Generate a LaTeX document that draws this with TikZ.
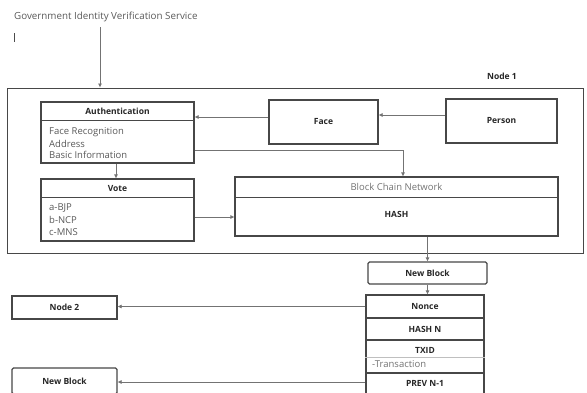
\documentclass[tikz,border=0pt]{standalone}
\usepackage{fontspec}
\setmainfont{Open Sans}
\usetikzlibrary{arrows.meta,positioning,calc}
\definecolor{boxgray}{gray}{0.28}

\begin{document}
\begin{tikzpicture}[x=1pt,y=-1pt,
        box/.style={draw=boxgray,line width=1.1pt,inner sep=0pt},
        lbl/.style={font=\fontsize{8.5}{10}\selectfont\bfseries,text=black!85},
        txt/.style={font=\fontsize{9.5}{12}\selectfont,text=black!65,anchor=west,inner sep=0pt},
        arr/.style={draw=black!55,line width=0.6pt,-{Latex[length=4pt,width=4pt]}}]
        \useasboundingbox (0,0) rectangle (587,392);

        % Header
        \node[txt,font=\fontsize{9.8}{12}\selectfont] (gov) at (14,17) {Government Identity Verification Service};
        \draw[black!70,line width=1pt] (14,33) -- (14,42);
        \coordinate (govout) at (100,27);

        % Node 1
        \node[draw=boxgray,line width=1pt,minimum width=576pt,minimum height=165pt] (frame) at (295,170.5) {};
        \node[lbl] (nodeone) at (502,76) {Node 1};
        \draw[arr] (govout) -- (govout |- frame.north);

        % Authentication
        \node[box,minimum width=153pt,minimum height=61pt] (auth) at (117.5,132.5) {};
        \draw[boxgray,line width=0.8pt] (auth.west |- 0,120) -- (auth.east |- 0,120);
        \node[lbl] at (117.5,111) {Authentication};
        \node[txt] at (49,132) {Face Recognition};
        \node[txt] at (49,144) {Address};
        \node[txt] at (49,155) {Basic Information};

        % Vote
        \node[box,minimum width=153pt,minimum height=62pt] (vote) at (117.5,210) {};
        \draw[boxgray,line width=0.8pt] (vote.west |- 0,197) -- (vote.east |- 0,197);
        \node[lbl] at (117.5,189) {Vote};
        \node[txt] at (49,208) {a-BJP};
        \node[txt] at (49,220) {b-NCP};
        \node[txt] at (49,232) {c-MNS};

        % Face, Person
        \node[box,lbl,minimum width=109pt,minimum height=44pt] (face) at (323.5,122) {Face};
        \node[box,lbl,minimum width=111pt,minimum height=44pt] (person) at (501.5,121) {Person};

        % Block Chain Network
        \node[box,minimum width=323pt,minimum height=59pt] (bcn) at (396.5,206.5) {};
        \draw[boxgray,line width=0.8pt] (bcn.west |- 0,197) -- (bcn.east |- 0,197);
        \node[txt,anchor=center,text=black!55] at (396.5,187) {Block Chain Network};
        \node[lbl] (hash) at (396.5,214) {HASH};

        % New block and its fields
        \node[box,lbl,rounded corners=1.5pt,minimum width=119pt,minimum height=22pt] (nbone) at (427.5,273) {New Block};
        \node[box,lbl,minimum width=118pt,minimum height=23pt] (nonce) at (425,306.5) {Nonce};
        \node[box,lbl,minimum width=118pt,minimum height=22pt] (hashn) at (425,329) {HASH N};
        \node[box,minimum width=118pt,minimum height=33pt] (txid) at (425,356.5) {};
        \draw[black!25,line width=0.8pt] (txid.west |- 0,357) -- (txid.east |- 0,357);
        \node[lbl] at (425,350) {TXID};
        \node[txt,text=black!55] at (372,364) {-Transaction};
        \node[box,lbl,minimum width=118pt,minimum height=21pt] (prev) at (425,383.5) {PREV N-1};

        % Other nodes
        \node[box,lbl,minimum width=105pt,minimum height=23pt] (nodetwo) at (64.5,307.5) {Node 2};
        \node[box,lbl,rounded corners=1.5pt,minimum width=105pt,minimum height=26pt] (nbtwo) at (64.5,381) {New Block};

        % Connectors
        \draw[arr] ([yshift=6pt]person.west) -- ([yshift=6pt]person.west -| face.east);
        \draw[arr] ([yshift=5pt]face.west) -- ([yshift=5pt]face.west -| auth.east);
        \draw[arr] ([yshift=-17.5pt]auth.east) -| ([xshift=6.5pt]bcn.north);
        \draw[arr] ([xshift=-1.5pt]auth.south) -- ([xshift=-1.5pt]vote.north);
        \draw[arr] ([yshift=-7pt]vote.east) -- ([yshift=-7pt]vote.east -| bcn.west);
        \draw[arr] (bcn.south -| nbone.north) -- (frame.south -| nbone.north) -- (nbone.north);
        \draw[arr] (nbone.south) -- (nbone.south |- nonce.north);
        \draw[arr] (nonce.west) -- (nonce.west -| nodetwo.east);
        \draw[arr] ([yshift=1.5pt]prev.west) -- ([yshift=1.5pt]prev.west -| nbtwo.east);
\end{tikzpicture}
\end{document}
